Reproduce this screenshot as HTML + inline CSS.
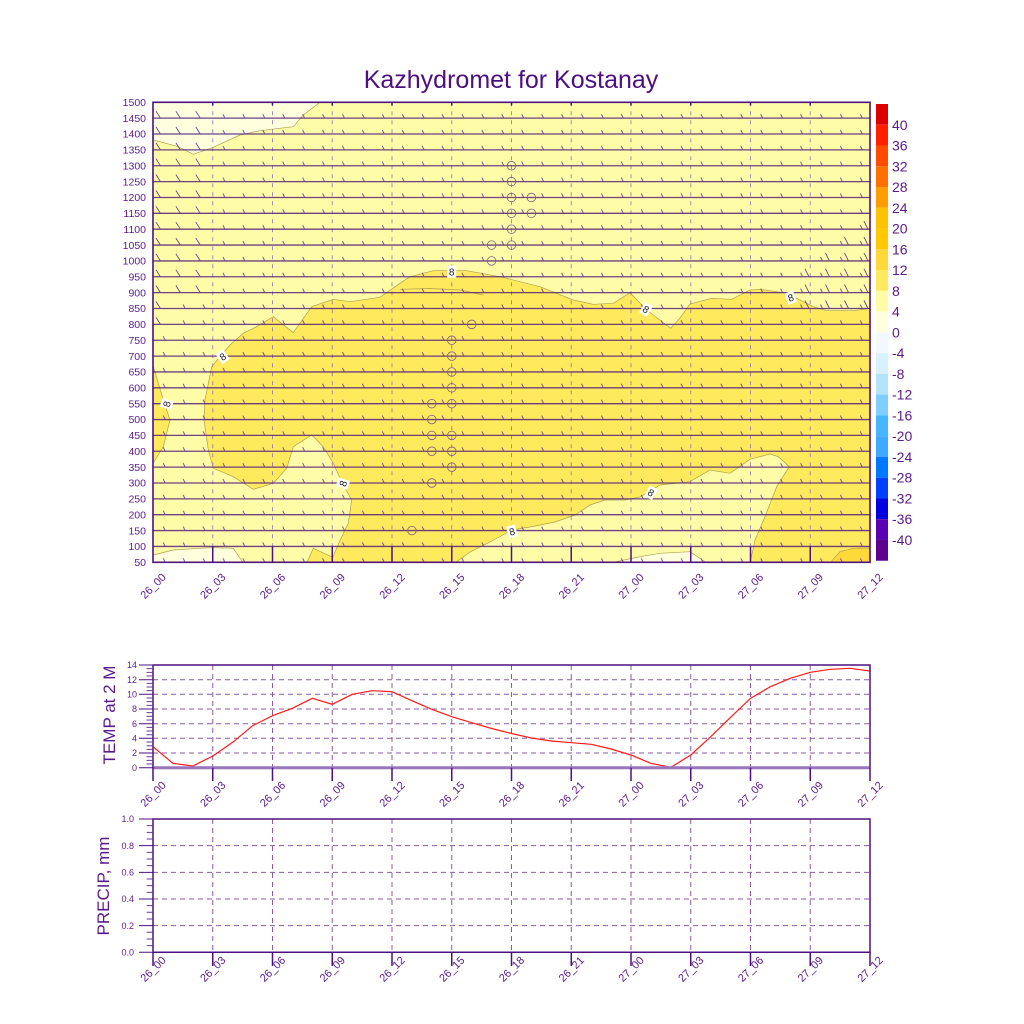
<!DOCTYPE html>
<html><head><meta charset="utf-8"><style>
html,body{margin:0;padding:0;background:#fff;}
svg{display:block;font-family:"Liberation Sans",sans-serif;}
</style></head><body>
<svg width="1024" height="1024" viewBox="0 0 1024 1024" xmlns="http://www.w3.org/2000/svg">
<defs>
<pattern id="bp" patternUnits="userSpaceOnUse" x="153" y="102.3" width="19.917" height="15.862">
<path d="M10.2 11.8L12.2 15.862" stroke="#6a3a8e" stroke-width="0.85" fill="none"/>
</pattern>
<clipPath id="mc"><rect x="153" y="102.3" width="717" height="460"/></clipPath>
</defs>
<rect width="1024" height="1024" fill="#fff"/>
<text x="511" y="88" font-size="25" fill="#4d0f80" text-anchor="middle">Kazhydromet for Kostanay</text>

<g clip-path="url(#mc)">
<rect x="153" y="102.3" width="717" height="460" fill="#FFFCA8"/>
<g stroke="#ada04e" stroke-width="0.7">
<path fill="#FFFFDE" d="M153,102.3 L320,102.3 L303.3,115 L293.3,126.7 L260,130.7 L240,135 L213.3,147.3 L193.3,154.3 L178.3,146.7 L153.3,140 Z"/>
<path fill="#FFFFDE" d="M153,555 L173.3,550 L200,548.3 L213.3,547.7 L233.3,548.3 L243.3,563 L153,563 Z"/>
<path fill="#FFFFDE" d="M610,563 L640,556.7 L660,553.3 L690,551.7 L706.7,563 Z"/>
<path fill="#FFE95C" d="M211.7,366.7 L220,356.7 L230,345 L243.3,333.3 L256.7,326.7 L273.3,316.7 L293.3,332.7 L311.7,306.7 L333.3,299.3 L350,301.7 L380,297.3 L400,283.3 L410,276.7 L433.3,270.7 L466.7,270.7 L500,276.7 L540,286.7 L573.3,300 L593.3,304.3 L613.3,303.3 L630,292.7 L646.7,310 L670.7,328.3 L680,318 L690,304 L711.7,298.3 L731.7,299.3 L740,295 L750,290 L760,289.3 L776.7,291.7 L786.7,293.3 L796.7,298.3 L813.3,306.7 L826.7,310.7 L853.3,310.7 L871,308.3 L871,563 L750,563 L755,540 L765,516.7 L776.7,486.7 L789.3,466.7 L778.3,456.7 L770,454 L750,459.3 L730,473.3 L710,470 L690,481.7 L660,485 L640,497 L625,500 L605,500 L590,505 L575,515 L555,522 L530,527 L512,530 L490,542 L470,552 L455,563 L306.7,563 L313.3,548.3 L332.7,557.3 L343.3,533.3 L348.3,523.3 L351.7,500 L343.3,485 L333.3,463.3 L323.3,446.7 L311.7,435 L293.3,446.7 L286.7,468.3 L273.3,483.3 L253.3,489.3 L233.3,476.7 L213.3,468.3 L208.3,450 L204,420 L205,400 Z"/>
<path fill="#FFE95C" d="M152,361.7 L163.3,400 L170,420 L163.3,446.7 L152,465 Z"/>
<path fill="#FFD93A" d="M830,563 L840,551.7 L853.3,548.3 L871,548 L871,563 Z"/>
<path fill="none" d="M400,289.3 L430,288.5 L460,290 L483.3,295"/>
</g>
<!-- dashed vertical grid -->
<g stroke="#9470b0" stroke-width="1" stroke-dasharray="4 5" opacity="0.8">
<path d="M212.75 102.3V562.3M272.5 102.3V562.3M332.25 102.3V562.3M392 102.3V562.3M451.75 102.3V562.3M511.5 102.3V562.3M571.25 102.3V562.3M631 102.3V562.3M690.75 102.3V562.3M750.5 102.3V562.3M810.25 102.3V562.3"/>
</g>
<!-- barb shafts -->
<path stroke="#55207f" stroke-width="1.3" opacity="0.85" fill="none" d="M153 118.16H870M153 134.02H870M153 149.89H870M153 165.75H870M153 181.61H870M153 197.47H870M153 213.33H870M153 229.2H870M153 245.06H870M153 260.92H870M153 276.78H870M153 292.64H870M153 308.51H870M153 324.37H870M153 340.23H870M153 356.09H870M153 371.95H870M153 387.82H870M153 403.68H870M153 419.54H870M153 435.4H870M153 451.26H870M153 467.13H870M153 482.99H870M153 498.85H870M153 514.71H870M153 530.57H870M153 546.44H870"/>
<!-- short barbs -->
<rect x="212.75" y="102.3" width="657.25" height="460" fill="url(#bp)"/>
<rect x="172.9" y="292.64" width="39.85" height="31.73" fill="url(#bp)"/>
<rect x="153" y="324.37" width="59.75" height="238" fill="url(#bp)"/>
<!-- long barbs -->
<path stroke="#6a3a8e" stroke-width="0.85" fill="none" d="M156 111.2l4.5 7M156 127l4.5 7M156 142.9l4.5 7M156 158.7l4.5 7M156 174.6l4.5 7M156 190.5l4.5 7M156 206.3l4.5 7M156 222.2l4.5 7M156 238.1l4.5 7M156 253.9l4.5 7M156 269.8l4.5 7M156 285.6l4.5 7M156 301.5l4.5 7M156 317.4l4.5 7
M175.9 111.2l4.5 7M175.9 127l4.5 7M175.9 142.9l4.5 7M175.9 158.7l4.5 7M175.9 174.6l4.5 7M175.9 190.5l4.5 7M175.9 206.3l4.5 7M175.9 222.2l4.5 7M175.9 238.1l4.5 7M175.9 253.9l4.5 7M175.9 269.8l4.5 7M175.9 285.6l4.5 7
M195.8 111.2l4.5 7M195.8 127l4.5 7M195.8 142.9l4.5 7M195.8 158.7l4.5 7M195.8 174.6l4.5 7M195.8 190.5l4.5 7M195.8 206.3l4.5 7M195.8 222.2l4.5 7M195.8 238.1l4.5 7M195.8 253.9l4.5 7M195.8 269.8l4.5 7M195.8 285.6l4.5 7
M864 221.2l4 8M864 237.1l4 8M864 252.9l4 8M864 268.8l4 8M864 284.6l4 8M864 300.5l4 8
M844.5 237.1l4 8M844.5 252.9l4 8M844.5 268.8l4 8M844.5 284.6l4 8M844.5 300.5l4 8
M825.5 252.9l4 8M825.5 268.8l4 8M825.5 284.6l4 8M825.5 300.5l4 8
M805 268.8l4 8M805 284.6l4 8M805 300.5l4 8"/>
<!-- calm circles -->
<g fill="none" stroke="#7a5a8a" stroke-width="0.8">
<circle cx="511.5" cy="165.75" r="4.3"/><circle cx="511.5" cy="181.61" r="4.3"/><circle cx="511.5" cy="197.47" r="4.3"/><circle cx="531.4" cy="197.47" r="4.3"/><circle cx="511.5" cy="213.33" r="4.3"/><circle cx="531.4" cy="213.33" r="4.3"/><circle cx="511.5" cy="229.2" r="4.3"/><circle cx="491.6" cy="245.06" r="4.3"/><circle cx="511.5" cy="245.06" r="4.3"/><circle cx="491.6" cy="260.92" r="4.3"/>
<circle cx="471.7" cy="324.37" r="4.3"/><circle cx="451.8" cy="340.23" r="4.3"/><circle cx="451.8" cy="356.09" r="4.3"/><circle cx="451.8" cy="371.95" r="4.3"/><circle cx="451.8" cy="387.82" r="4.3"/><circle cx="431.8" cy="403.68" r="4.3"/><circle cx="451.8" cy="403.68" r="4.3"/><circle cx="431.8" cy="419.54" r="4.3"/><circle cx="431.8" cy="435.4" r="4.3"/><circle cx="451.8" cy="435.4" r="4.3"/><circle cx="431.8" cy="451.26" r="4.3"/><circle cx="451.8" cy="451.26" r="4.3"/><circle cx="451.8" cy="467.13" r="4.3"/><circle cx="431.8" cy="482.99" r="4.3"/><circle cx="411.9" cy="530.57" r="4.3"/>
</g>
<!-- contour labels -->
<g font-size="10" fill="#222" text-anchor="middle">
<g transform="translate(166.7,404) rotate(-75)"><rect x="-4.5" y="-6" width="9" height="12" fill="#fff"/><text y="3.6">8</text></g>
<g transform="translate(222.7,356.7) rotate(-35)"><rect x="-4.5" y="-6" width="9" height="12" fill="#fff"/><text y="3.6">8</text></g>
<g transform="translate(343,483.5) rotate(-70)"><rect x="-4.5" y="-6" width="9" height="12" fill="#fff"/><text y="3.6">8</text></g>
<g transform="translate(451.7,271.7)"><rect x="-4.5" y="-6" width="9" height="12" fill="#fff"/><text y="3.6">8</text></g>
<g transform="translate(646,309.3) rotate(30)"><rect x="-4.5" y="-6" width="9" height="12" fill="#fff"/><text y="3.6">8</text></g>
<g transform="translate(790.7,297.7) rotate(-20)"><rect x="-4.5" y="-6" width="9" height="12" fill="#fff"/><text y="3.6">8</text></g>
<g transform="translate(651,492.7) rotate(30)"><rect x="-4.5" y="-6" width="9" height="12" fill="#fff"/><text y="3.6">8</text></g>
<g transform="translate(512,531.5) rotate(-15)"><rect x="-4.5" y="-6" width="9" height="12" fill="#fff"/><text y="3.6">8</text></g>
</g>
<!-- inward ticks -->
<path stroke="#4d1180" stroke-width="1.5" d="M212.75 562.3V546.3M272.5 562.3V546.3M332.25 562.3V546.3M392 562.3V546.3M451.75 562.3V546.3M511.5 562.3V546.3M571.25 562.3V546.3M631 562.3V546.3M690.75 562.3V546.3M750.5 562.3V546.3M810.25 562.3V546.3
M212.75 102.3V105.5M272.5 102.3V105.5M332.25 102.3V105.5M392 102.3V105.5M451.75 102.3V105.5M511.5 102.3V105.5M571.25 102.3V105.5M631 102.3V105.5M690.75 102.3V105.5M750.5 102.3V105.5M810.25 102.3V105.5"/>
</g>
<rect x="153" y="102.3" width="717" height="460" fill="none" stroke="#4d1180" stroke-width="1.6"/>

<!-- main y labels -->
<g font-size="10.5" fill="#5a1a8c" text-anchor="end">
<text x="146" y="106">1500</text><text x="146" y="121.9">1450</text><text x="146" y="137.7">1400</text><text x="146" y="153.6">1350</text><text x="146" y="169.5">1300</text><text x="146" y="185.3">1250</text><text x="146" y="201.2">1200</text><text x="146" y="217">1150</text><text x="146" y="232.9">1100</text><text x="146" y="248.8">1050</text><text x="146" y="264.6">1000</text><text x="146" y="280.5">950</text><text x="146" y="296.3">900</text><text x="146" y="312.2">850</text><text x="146" y="328.1">800</text><text x="146" y="343.9">750</text><text x="146" y="359.8">700</text><text x="146" y="375.7">650</text><text x="146" y="391.5">600</text><text x="146" y="407.4">550</text><text x="146" y="423.2">500</text><text x="146" y="439.1">450</text><text x="146" y="455">400</text><text x="146" y="470.8">350</text><text x="146" y="486.7">300</text><text x="146" y="502.6">250</text><text x="146" y="518.4">200</text><text x="146" y="534.3">150</text><text x="146" y="550.1">100</text><text x="146" y="566">50</text>
</g>

<!-- x labels (3 panels) -->
<g font-size="11" fill="#5a1a8c" text-anchor="middle">
<text transform="translate(153,586) rotate(-45)" dy="0.35em">26_00</text><text transform="translate(212.75,586) rotate(-45)" dy="0.35em">26_03</text><text transform="translate(272.5,586) rotate(-45)" dy="0.35em">26_06</text><text transform="translate(332.25,586) rotate(-45)" dy="0.35em">26_09</text><text transform="translate(392,586) rotate(-45)" dy="0.35em">26_12</text><text transform="translate(451.75,586) rotate(-45)" dy="0.35em">26_15</text><text transform="translate(511.5,586) rotate(-45)" dy="0.35em">26_18</text><text transform="translate(571.25,586) rotate(-45)" dy="0.35em">26_21</text><text transform="translate(631,586) rotate(-45)" dy="0.35em">27_00</text><text transform="translate(690.75,586) rotate(-45)" dy="0.35em">27_03</text><text transform="translate(750.5,586) rotate(-45)" dy="0.35em">27_06</text><text transform="translate(810.25,586) rotate(-45)" dy="0.35em">27_09</text><text transform="translate(870,586) rotate(-45)" dy="0.35em">27_12</text>
<text transform="translate(153,794) rotate(-45)" dy="0.35em">26_00</text><text transform="translate(212.75,794) rotate(-45)" dy="0.35em">26_03</text><text transform="translate(272.5,794) rotate(-45)" dy="0.35em">26_06</text><text transform="translate(332.25,794) rotate(-45)" dy="0.35em">26_09</text><text transform="translate(392,794) rotate(-45)" dy="0.35em">26_12</text><text transform="translate(451.75,794) rotate(-45)" dy="0.35em">26_15</text><text transform="translate(511.5,794) rotate(-45)" dy="0.35em">26_18</text><text transform="translate(571.25,794) rotate(-45)" dy="0.35em">26_21</text><text transform="translate(631,794) rotate(-45)" dy="0.35em">27_00</text><text transform="translate(690.75,794) rotate(-45)" dy="0.35em">27_03</text><text transform="translate(750.5,794) rotate(-45)" dy="0.35em">27_06</text><text transform="translate(810.25,794) rotate(-45)" dy="0.35em">27_09</text><text transform="translate(870,794) rotate(-45)" dy="0.35em">27_12</text>
<text transform="translate(153,969) rotate(-45)" dy="0.35em">26_00</text><text transform="translate(212.75,969) rotate(-45)" dy="0.35em">26_03</text><text transform="translate(272.5,969) rotate(-45)" dy="0.35em">26_06</text><text transform="translate(332.25,969) rotate(-45)" dy="0.35em">26_09</text><text transform="translate(392,969) rotate(-45)" dy="0.35em">26_12</text><text transform="translate(451.75,969) rotate(-45)" dy="0.35em">26_15</text><text transform="translate(511.5,969) rotate(-45)" dy="0.35em">26_18</text><text transform="translate(571.25,969) rotate(-45)" dy="0.35em">26_21</text><text transform="translate(631,969) rotate(-45)" dy="0.35em">27_00</text><text transform="translate(690.75,969) rotate(-45)" dy="0.35em">27_03</text><text transform="translate(750.5,969) rotate(-45)" dy="0.35em">27_06</text><text transform="translate(810.25,969) rotate(-45)" dy="0.35em">27_09</text><text transform="translate(870,969) rotate(-45)" dy="0.35em">27_12</text>
</g>

<!-- colorbar -->
<g>
<rect x="876" y="104" width="12" height="20.76" fill="#DD0000"/>
<rect x="876" y="124.76" width="12" height="20.76" fill="#FF2000"/>
<rect x="876" y="145.52" width="12" height="20.76" fill="#FF4A00"/>
<rect x="876" y="166.28" width="12" height="20.76" fill="#FF7000"/>
<rect x="876" y="187.04" width="12" height="20.76" fill="#FF9C00"/>
<rect x="876" y="207.8" width="12" height="20.76" fill="#FFC200"/>
<rect x="876" y="228.56" width="12" height="20.76" fill="#FFC800"/>
<rect x="876" y="249.32" width="12" height="20.76" fill="#FFD93A"/>
<rect x="876" y="270.08" width="12" height="20.76" fill="#FFE95C"/>
<rect x="876" y="290.84" width="12" height="20.76" fill="#FFFCA8"/>
<rect x="876" y="311.6" width="12" height="20.76" fill="#FFFFDE"/>
<rect x="876" y="332.36" width="12" height="20.76" fill="#F2F8FF"/>
<rect x="876" y="353.12" width="12" height="20.76" fill="#D8F1FF"/>
<rect x="876" y="373.88" width="12" height="20.76" fill="#B2E3FF"/>
<rect x="876" y="394.64" width="12" height="20.76" fill="#7ECFFF"/>
<rect x="876" y="415.4" width="12" height="20.76" fill="#46B7FF"/>
<rect x="876" y="436.16" width="12" height="20.76" fill="#3CAAFF"/>
<rect x="876" y="456.92" width="12" height="20.76" fill="#0078FF"/>
<rect x="876" y="477.68" width="12" height="20.76" fill="#0040FF"/>
<rect x="876" y="498.44" width="12" height="20.76" fill="#0000E0"/>
<rect x="876" y="519.2" width="12" height="20.76" fill="#5A00B4"/>
<rect x="876" y="539.96" width="12" height="20.76" fill="#5C0090"/>
</g>
<g font-size="14" fill="#5a1a8c">
<text x="892" y="129.8">40</text><text x="892" y="150.6">36</text><text x="892" y="171.3">32</text><text x="892" y="192.1">28</text><text x="892" y="212.8">24</text><text x="892" y="233.6">20</text><text x="892" y="254.4">16</text><text x="892" y="275.1">12</text><text x="892" y="295.9">8</text><text x="892" y="316.6">4</text><text x="892" y="337.4">0</text><text x="892" y="358.2">-4</text><text x="892" y="378.9">-8</text><text x="892" y="399.7">-12</text><text x="892" y="420.4">-16</text><text x="892" y="441.2">-20</text><text x="892" y="462">-24</text><text x="892" y="482.7">-28</text><text x="892" y="503.5">-32</text><text x="892" y="524.2">-36</text><text x="892" y="545">-40</text>
</g>

<!-- TEMP panel -->
<g stroke="#8a5aa8" stroke-width="1" stroke-dasharray="5 4" fill="none">
<path d="M153 679.7H870M153 694.3H870M153 709H870M153 723.7H870M153 738.3H870M153 753H870"/>
<path d="M212.75 665V767.7M272.5 665V767.7M332.25 665V767.7M392 665V767.7M451.75 665V767.7M511.5 665V767.7M571.25 665V767.7M631 665V767.7M690.75 665V767.7M750.5 665V767.7M810.25 665V767.7"/>
</g>
<polyline fill="none" stroke="#ff1a1a" stroke-width="1.2" points="153,746.7 172.9,763.3 192.8,766 212.8,756 232.7,742.3 252.6,725.7 272.5,715.7 292.4,708.3 312.3,698.3 332.3,704.3 352.2,694.3 372.1,690.7 392,691.7 411.9,700.7 431.8,709.3 451.8,716.7 471.7,722.7 491.6,728.5 511.5,733.5 531.4,738 551.3,741 571.3,742.7 591.2,744.3 611.1,749 631,755 650.9,763.3 670.8,767.4 690.8,755 710.7,736.7 730.6,717.3 750.5,698.3 770.4,686.7 790.3,678.3 810.3,672.3 830.2,669.3 850.1,668.3 870,671"/>
<path d="M153 767.7H870" stroke="#9a74bc" stroke-width="3"/>
<path d="M153 665H870V767.7M153 665V781" stroke="#4d1180" stroke-width="1.5" fill="none"/>
<path stroke="#4d1180" stroke-width="1.5" d="M212.75 767.7V781M272.5 767.7V781M332.25 767.7V781M392 767.7V781M451.75 767.7V781M511.5 767.7V781M571.25 767.7V781M631 767.7V781M690.75 767.7V781M750.5 767.7V781M810.25 767.7V781M870 767.7V781"/>
<path stroke="#4d1180" stroke-width="1" d="M139 767.7H153M139 753H153M139 738.3H153M139 723.7H153M139 709H153M139 694.3H153M139 679.7H153M139 665H153"/>
<path stroke="#6a3a96" stroke-width="1" d="M146.5 764.03H153M146.5 760.36H153M146.5 756.7H153M146.5 749.36H153M146.5 745.69H153M146.5 742.02H153M146.5 734.69H153M146.5 731.02H153M146.5 727.35H153M146.5 720.02H153M146.5 716.35H153M146.5 712.68H153M146.5 705.34H153M146.5 701.68H153M146.5 698.01H153M146.5 690.67H153M146.5 687H153M146.5 683.34H153M146.5 676H153M146.5 672.33H153M146.5 668.66H153"/>
<g font-size="9" fill="#5a1a8c" text-anchor="end">
<text x="137" y="770.9">0</text><text x="137" y="756.2">2</text><text x="137" y="741.5">4</text><text x="137" y="726.9">6</text><text x="137" y="712.2">8</text><text x="137" y="697.5">10</text><text x="137" y="682.9">12</text><text x="137" y="668.2">14</text>
</g>
<text transform="translate(115,715) rotate(-90)" font-size="17" fill="#5a1a8c" text-anchor="middle">TEMP at 2 M</text>

<!-- PRECIP panel -->
<g stroke="#8a5aa8" stroke-width="1" stroke-dasharray="5 4" fill="none">
<path d="M153 925.64H870M153 898.98H870M153 872.32H870M153 845.66H870"/>
<path d="M212.75 819V952.3M272.5 819V952.3M332.25 819V952.3M392 819V952.3M451.75 819V952.3M511.5 819V952.3M571.25 819V952.3M631 819V952.3M690.75 819V952.3M750.5 819V952.3M810.25 819V952.3"/>
</g>
<path d="M153 952.3H870V819H153V966" stroke="#4d1180" stroke-width="1.5" fill="none"/>
<path stroke="#4d1180" stroke-width="1.5" d="M212.75 952.3V966M272.5 952.3V966M332.25 952.3V966M392 952.3V966M451.75 952.3V966M511.5 952.3V966M571.25 952.3V966M631 952.3V966M690.75 952.3V966M750.5 952.3V966M810.25 952.3V966M870 952.3V966"/>
<path stroke="#4d1180" stroke-width="1" d="M139 952.3H153M139 925.64H153M139 898.98H153M139 872.32H153M139 845.66H153M139 819H153"/>
<path stroke="#6a3a96" stroke-width="1" d="M146.7 945.64H153M146.7 938.97H153M146.7 932.31H153M146.7 918.98H153M146.7 912.31H153M146.7 905.65H153M146.7 892.32H153M146.7 885.65H153M146.7 878.99H153M146.7 865.66H153M146.7 858.99H153M146.7 852.33H153M146.7 839H153M146.7 832.33H153M146.7 825.67H153"/>
<g font-size="9" fill="#5a1a8c" text-anchor="end">
<text x="134" y="955.5">0.0</text><text x="134" y="928.8">0.2</text><text x="134" y="902.2">0.4</text><text x="134" y="875.5">0.6</text><text x="134" y="848.9">0.8</text><text x="134" y="822.2">1.0</text>
</g>
<text transform="translate(109,886) rotate(-90)" font-size="17" fill="#5a1a8c" text-anchor="middle">PRECIP, mm</text>
</svg>
</body></html>
